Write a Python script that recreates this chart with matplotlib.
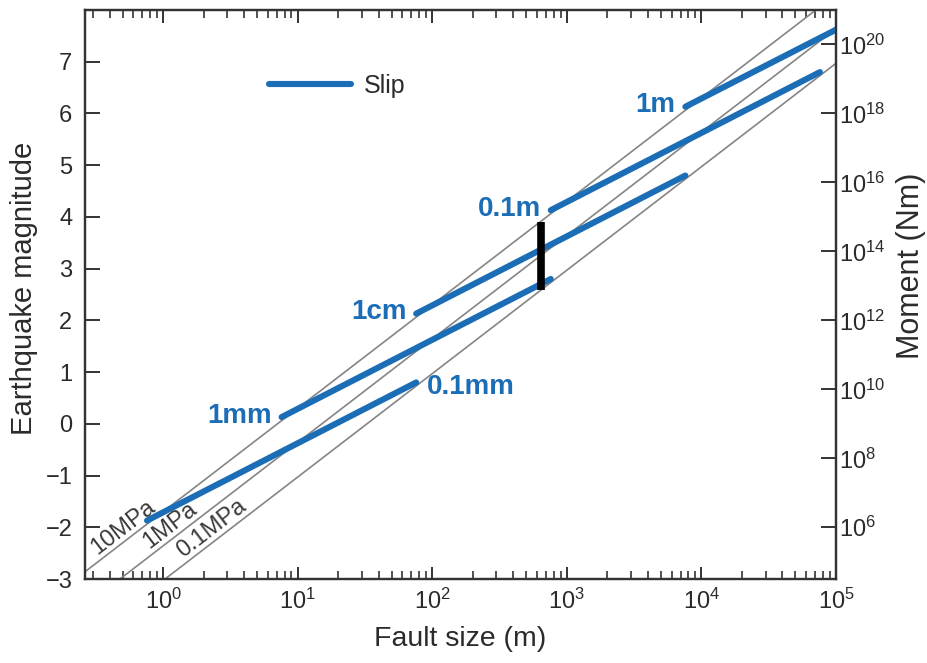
import numpy as np
import matplotlib
matplotlib.use("Agg")
import matplotlib.pyplot as plt
from matplotlib.ticker import FixedLocator, LogLocator, NullFormatter, NullLocator, FuncFormatter

plt.rcParams['font.family'] = ['Liberation Sans', 'DejaVu Sans']
plt.rcParams['mathtext.fontset'] = 'custom'
plt.rcParams['mathtext.rm'] = 'Liberation Sans'
plt.rcParams['mathtext.it'] = 'Liberation Sans:italic'
plt.rcParams['mathtext.bf'] = 'Liberation Sans:bold'

# Constant stress-drop reference lines (fault size in m -> magnitude)
stress_labels = ["10MPa", "1MPa", "0.1MPa"]
stress_size = [0.1, 1e5]
stress_mag_10MPa = [-3.70, 8.30]
stress_mag_1MPa = [-4.36, 7.64]
stress_mag_01MPa = [-5.03, 6.97]
stress_label_size = [0.57, 1.27, 2.6]

# Constant-slip segments
slip_labels = ["0.1mm", "1mm", "1cm", "0.1m", "1m"]
slip_size_start = [0.76, 7.6, 76, 760, 7600]
slip_size_end = [76, 760, 7600, 76000, 100000]
slip_mag_start = [-1.87, 0.13, 2.13, 4.13, 6.13]
slip_mag_end = [0.80, 2.80, 4.80, 6.80, 7.62]

# Magnitude range spanned at a single fault size
bar_size = [640, 640]
bar_mag = [2.58, 3.90]

x_ticks = [1e0, 1e1, 1e2, 1e3, 1e4, 1e5]
mag_ticks = [-3, -2, -1, 0, 1, 2, 3, 4, 5, 6, 7]
moment_exponents = [6, 8, 10, 12, 14, 16, 18, 20]

BLUE = '#1b6db6'
GRAY = '#858585'
INK = '#2b2b2b'

fig = plt.figure(figsize=(9.27, 6.63), dpi=100)
ax = fig.add_axes([85 / 927, 1 - 579 / 663, (836 - 85) / 927, (579 - 10) / 663])

ax.set_xscale('log')
ax.set_xlim(0.263, 1e5)
ax.set_ylim(-3, 8)

stress_mags = [stress_mag_10MPa, stress_mag_1MPa, stress_mag_01MPa]
for mags in stress_mags:
    ax.plot(stress_size, mags, color=GRAY, lw=1.2, zorder=2)

for x0, x1, y0, y1 in zip(slip_size_start, slip_size_end, slip_mag_start, slip_mag_end):
    ax.plot([x0, x1], [y0, y1], color=BLUE, lw=4.4, solid_capstyle='round', zorder=3)

ax.plot(bar_size, bar_mag, color='black', lw=5.5, solid_capstyle='butt', zorder=4)

# Slip labels: left of each segment start, except the smallest one at its end
for i, lab in enumerate(slip_labels):
    if i == 0:
        ax.annotate(lab, xy=(slip_size_end[i], slip_mag_end[i]), xytext=(8, -3),
                    textcoords='offset points', ha='left', va='center',
                    color=BLUE, fontsize=20, fontweight='bold')
    else:
        ax.annotate(lab, xy=(slip_size_start[i], slip_mag_start[i]), xytext=(-7, 1),
                    textcoords='offset points', ha='right', va='center',
                    color=BLUE, fontsize=20, fontweight='bold')

# Stress-drop labels along their lines
for lab, mags, xs in zip(stress_labels, stress_mags, stress_label_size):
    p0 = ax.transData.transform((stress_size[0], mags[0]))
    p1 = ax.transData.transform((stress_size[1], mags[1]))
    ang = np.degrees(np.arctan2(p1[1] - p0[1], p1[0] - p0[0]))
    frac = (np.log10(xs) - np.log10(stress_size[0])) / (np.log10(stress_size[1]) - np.log10(stress_size[0]))
    ym = mags[0] + frac * (mags[1] - mags[0])
    th = np.radians(ang)
    d = 8.5
    ax.annotate(lab, xy=(xs, ym), xytext=(-d * np.sin(th), d * np.cos(th)),
                textcoords='offset points', ha='center', va='center',
                rotation=ang, rotation_mode='anchor', color='#3a3a3a', fontsize=17)

# Legend
ax.plot([], [], color=BLUE, lw=4.4, solid_capstyle='round', label='Slip')
leg = ax.legend(loc='center left', bbox_to_anchor=(0.245, 0.867), frameon=False,
                borderpad=0, borderaxespad=0, fontsize=18, handlelength=3.3,
                handletextpad=0.5, labelcolor=INK)

# Axes styling
for sp in ax.spines.values():
    sp.set_linewidth(1.6)
    sp.set_color('#333333')

ax.xaxis.set_major_locator(FixedLocator(x_ticks))
ax.xaxis.set_major_formatter(FuncFormatter(lambda v, p: r'$\mathregular{10^{%d}}$' % round(np.log10(v))))
ax.xaxis.set_minor_locator(LogLocator(base=10, subs=np.arange(2, 10), numticks=20))
ax.xaxis.set_minor_formatter(NullFormatter())
ax.tick_params(axis='x', which='major', direction='in', length=9, width=1.4, top=True,
               labelsize=17, pad=7, colors='#333333', labelcolor=INK)
ax.tick_params(axis='x', which='minor', direction='in', length=6, width=1.2, top=True,
               colors='#333333')

ax.yaxis.set_major_locator(FixedLocator(mag_ticks))
ax.yaxis.set_major_formatter(FuncFormatter(lambda v, p: '\u2212%d' % abs(v) if v < 0 else '%d' % v))
ax.tick_params(axis='y', which='major', direction='in', length=11, width=1.4, right=False,
               labelsize=17, pad=9, colors='#333333', labelcolor=INK)

ax.set_xlabel('Fault size (m)', fontsize=20.5, color=INK)
ax.xaxis.set_label_coords(0.5, -0.083)
ax.xaxis.label.set_va('top')
ax.set_ylabel('Earthquake magnitude', fontsize=21, color=INK)
ax.yaxis.set_label_coords(-0.062, 0.51)

# Seismic moment axis: log10(M0) = 1.5 * Mw + 9
ax2 = ax.twinx()
ax2.set_yscale('log')
ax2.set_ylim(10 ** (1.5 * -3 + 9), 10 ** (1.5 * 8 + 9))
ax2.yaxis.set_major_locator(FixedLocator([10.0 ** e for e in moment_exponents]))
ax2.yaxis.set_minor_locator(NullLocator())
ax2.yaxis.set_major_formatter(FuncFormatter(lambda v, p: r'$\mathregular{10^{%d}}$' % round(np.log10(v))))
ax2.tick_params(axis='y', which='major', direction='in', length=11, width=1.4,
                labelsize=17, pad=2, colors='#333333', labelcolor=INK)
for sp in ax2.spines.values():
    sp.set_linewidth(1.6)
    sp.set_color('#333333')
ax2.set_ylabel('Moment (Nm)', fontsize=22, color=INK)
ax2.yaxis.set_label_coords(1.08, 0.55)

fig.savefig('out.png', dpi=100)
